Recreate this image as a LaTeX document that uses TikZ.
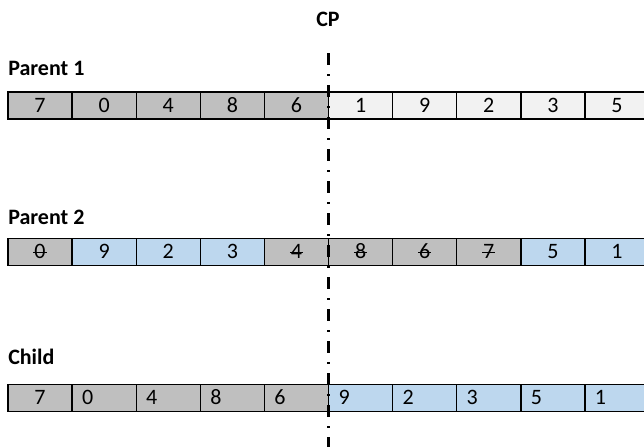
\documentclass[tikz,border=0pt]{standalone}
\usepackage{fontspec}
\setmainfont{Carlito}
\newsavebox{\chiffrebox}
\newcommand{\barre}[1]{\sbox{\chiffrebox}{#1}\makebox[0pt][l]{\hspace{-0.05em}\rule[0.28em]{\dimexpr\wd\chiffrebox+0.1em\relax}{0.75pt}}#1}
\begin{document}
\begin{tikzpicture}[x=0.75pt,y=-0.75pt,font=\fontsize{16.5}{19}\selectfont,
case/.style={draw,line width=1pt,minimum width=48.1pt,minimum height=20.25pt,inner sep=0pt,outer sep=0pt,text height=10.4pt,text depth=0pt},
gris/.style={case,fill=grisfond},
clair/.style={case,fill=clairfond},
bleu/.style={case,fill=bleufond},
gauche/.style={text width=33.1pt,align=left,inner xsep=7.5pt},
titre/.style={font=\fontsize{16.5}{19}\selectfont\bfseries,anchor=base west,inner sep=0pt},
coupe/.style={line width=2.25pt,dash pattern=on 9pt off 6.75pt on 1.5pt off 6.75pt}]
\definecolor{grisfond}{RGB}{191,191,191}
\definecolor{clairfond}{RGB}{242,242,242}
\definecolor{bleufond}{RGB}{189,215,238}
\useasboundingbox (0,0) rectangle (644,447);
\node[titre,anchor=base] (cp) at (328,26.7) {CP};
\node[titre] (parent1) at (8,75) {Parent 1};
\node[titre] (parent2) at (8,224) {Parent 2};
\node[titre] (enfant) at (8,364.5) {Child};
% parent 1
\node[gris] (pa1) at (40,105.5) {7};
\node[gris] (pa2) at (104.2,105.5) {0};
\node[gris] (pa3) at (168.3,105.5) {4};
\node[gris] (pa4) at (232.4,105.5) {8};
\node[gris] (pa5) at (296.5,105.5) {6};
\node[clair] (pa6) at (360.6,105.5) {1};
\node[clair] (pa7) at (424.7,105.5) {9};
\node[clair] (pa8) at (488.8,105.5) {2};
\node[clair] (pa9) at (552.9,105.5) {3};
\node[clair] (pa10) at (617,105.5) {5};
% parent 2
\node[gris] (pb1) at (40,252) {\barre{0}};
\node[bleu] (pb2) at (104.2,252) {9};
\node[bleu] (pb3) at (168.3,252) {2};
\node[bleu] (pb4) at (232.4,252) {3};
\node[gris] (pb5) at (296.5,252) {\barre{4}};
\node[gris] (pb6) at (360.6,252) {\barre{8}};
\node[gris] (pb7) at (424.7,252) {\barre{6}};
\node[gris] (pb8) at (488.8,252) {\barre{7}};
\node[bleu] (pb9) at (552.9,252) {5};
\node[bleu] (pb10) at (617,252) {1};
% child
\node[gris] (ch1) at (40,397.7) {7};
\node[gris,gauche] (ch2) at (104.2,397.7) {0};
\node[gris,gauche] (ch3) at (168.3,397.7) {4};
\node[gris,gauche] (ch4) at (232.4,397.7) {8};
\node[gris,gauche] (ch5) at (296.5,397.7) {6};
\node[bleu,gauche] (ch6) at (360.6,397.7) {9};
\node[bleu,gauche] (ch7) at (424.7,397.7) {2};
\node[bleu,gauche] (ch8) at (488.8,397.7) {3};
\node[bleu,gauche] (ch9) at (552.9,397.7) {5};
\node[bleu,gauche] (ch10) at (617,397.7) {1};
% point de coupure
\coordinate (haut) at (328.6,53);
\coordinate (bas) at (328.6,447);
\draw[coupe] (haut) -- (bas);
\end{tikzpicture}
\end{document}
